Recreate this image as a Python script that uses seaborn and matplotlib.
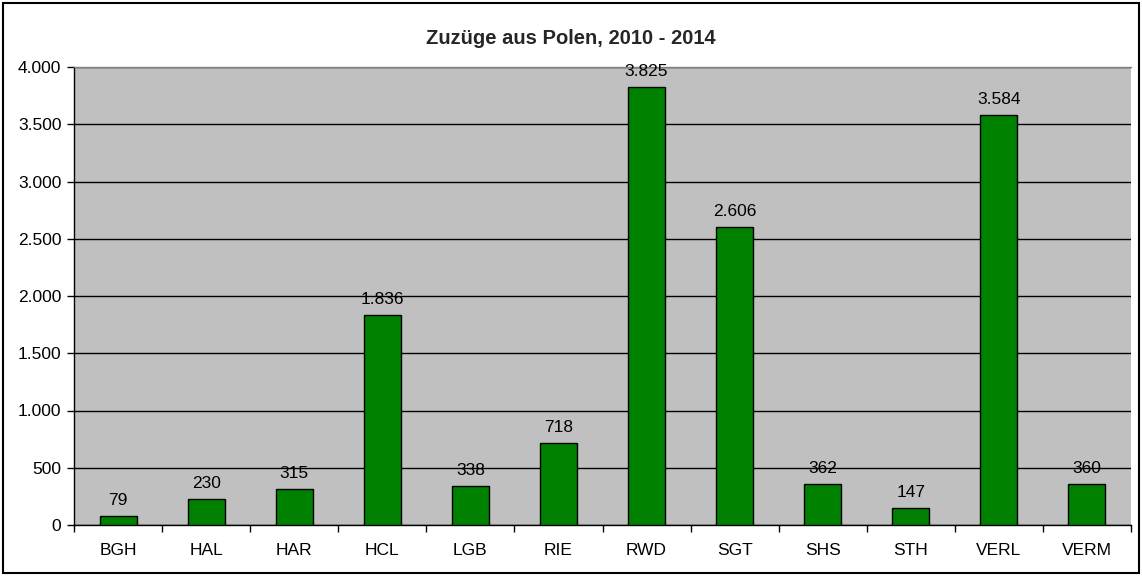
import matplotlib
matplotlib.use("Agg")
import matplotlib.pyplot as plt
import matplotlib.ticker as mticker
from matplotlib.patches import Rectangle
import seaborn as sns
import pandas as pd

regions = ["BGH", "HAL", "HAR", "HCL", "LGB", "RIE", "RWD", "SGT", "SHS", "STH", "VERL", "VERM"]
arrivals = [79, 230, 315, 1836, 338, 718, 3825, 2606, 362, 147, 3584, 360]
y_ticks = [0, 500, 1000, 1500, 2000, 2500, 3000, 3500, 4000]
title = "Zuzüge aus Polen, 2010 - 2014"

def de_num(v):
    return f"{int(v):,}".replace(",", ".")

sns.set_theme(style="white")
plt.rcParams["font.family"] = ["Liberation Sans", "DejaVu Sans"]

df = pd.DataFrame({"region": regions, "value": arrivals})

fig = plt.figure(figsize=(11.42, 5.76), dpi=100)
ax = fig.add_axes([74 / 1142, 1 - 525 / 576, (1131 - 74) / 1142, (525 - 67) / 576])

sns.barplot(data=df, x="region", y="value", color="#008000", width=0.42,
            edgecolor="black", linewidth=1.0, saturation=1, ax=ax, zorder=3)

ax.set_facecolor("#C0C0C0")
ax.set_ylim(0, 4000)
ax.set_xlim(-0.5, len(regions) - 0.5)
ax.set_yticks(y_ticks)
ax.yaxis.set_major_formatter(mticker.FuncFormatter(lambda v, p: de_num(v)))
ax.grid(axis="y", color="black", linewidth=1.0, zorder=1)
ax.set_axisbelow(True)
ax.set_xlabel("")
ax.set_ylabel("")

ax.spines["right"].set_visible(False)
ax.spines["top"].set_color("#808080")
ax.spines["left"].set_color("black")
ax.spines["bottom"].set_color("black")
for s in ["left", "bottom", "top"]:
    ax.spines[s].set_linewidth(1.0)

lbl_size = 12.5
ax.set_xticks(range(len(regions)))
ax.set_xticklabels(regions)
ax.tick_params(axis="x", length=0, pad=13, labelsize=lbl_size, colors="black")
ax.set_xticks([i - 0.5 for i in range(len(regions) + 1)], minor=True)
ax.tick_params(axis="x", which="minor", length=5, width=1, color="black", direction="out", bottom=True)
ax.tick_params(axis="y", length=5, width=1, color="black", direction="out", left=True,
               labelsize=lbl_size, pad=4, colors="black")

for i, v in enumerate(arrivals):
    ax.text(i, v + 70, de_num(v), ha="center", va="bottom", fontsize=lbl_size, color="black", zorder=4)

fig.text(0.5, 1 - 38 / 576, title, ha="center", va="center", fontsize=14.5, fontweight="bold")

fig.patches.append(Rectangle((3 / 1142, 3 / 576), 1 - 6 / 1142, 1 - 6 / 576,
                             transform=fig.transFigure, fill=False, edgecolor="black",
                             linewidth=1.5))

fig.savefig("out.png", dpi=100, facecolor="white")
